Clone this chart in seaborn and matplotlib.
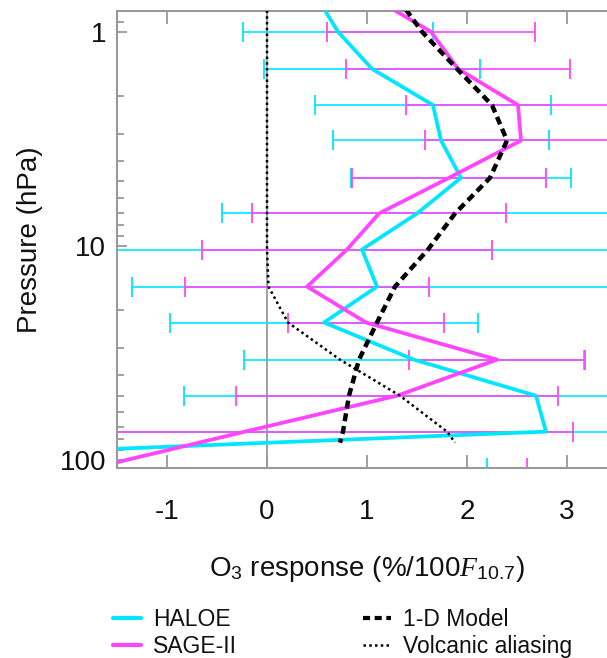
import matplotlib
matplotlib.use('Agg')
import matplotlib.pyplot as plt
from matplotlib.ticker import LogLocator, NullFormatter
from matplotlib.lines import Line2D
import seaborn as sns

# pressure levels (hPa) of the satellite profiles
pressure = [0.68, 1.0, 1.49, 2.2, 3.22, 4.81, 7.06, 10.4, 15.5, 22.8, 34.0, 50.1, 73.7, 109.0]

# solar O3 response (%/100 F10.7) and 2-sigma half widths
haloe = [0.49, 0.71, 1.05, 1.66, 1.74, 1.94, 1.50, 0.95, 1.10, 0.57, 1.47, 2.69, 2.79, -6.3]
haloe_err = [0.95, 0.95, 1.08, 1.18, 1.08, 1.10, 1.95, 2.6, 2.45, 1.54, 1.70, 3.52, 4.5, 8.5]
sage = [1.03, 1.64, 1.91, 2.51, 2.54, 1.82, 1.12, 0.80, 0.40, 0.99, 2.30, 1.30, -0.22, -1.74]
sage_err = [1.04, 1.04, 1.12, 1.12, 0.96, 0.97, 1.27, 1.45, 1.22, 0.78, 0.88, 1.61, 3.28, 4.34]

# model and volcanic aliasing profiles
model_p = [0.68, 1.0, 1.49, 2.2, 3.22, 4.81, 7.06, 10.4, 15.5, 22.8, 34.0, 50.1, 73.7, 83.0]
model = [1.29, 1.55, 1.90, 2.25, 2.40, 2.23, 1.88, 1.61, 1.28, 1.10, 0.92, 0.82, 0.76, 0.73]
volcanic = [0.0, 0.0, 0.0, 0.0, 0.0, 0.0, 0.0, 0.0, 0.015, 0.21, 0.73, 1.33, 1.80, 1.88]

x_ticks = [-1, 0, 1, 2, 3]
y_ticks = [1, 10, 100]

CYAN = '#00E6FF'
MAGENTA = '#FF45FF'
GREY = '#999999'
INK = '#111111'

sns.set_style('ticks')
plt.rcParams['font.family'] = ['Liberation Sans', 'DejaVu Sans']
plt.rcParams['mathtext.fontset'] = 'custom'
plt.rcParams['mathtext.rm'] = 'Liberation Sans'
plt.rcParams['mathtext.it'] = 'Liberation Serif:italic'
plt.rcParams['axes.unicode_minus'] = False
plt.rcParams['text.color'] = INK
plt.rcParams['axes.labelcolor'] = INK
plt.rcParams['xtick.labelcolor'] = INK
plt.rcParams['ytick.labelcolor'] = INK

fig = plt.figure(figsize=(6.07, 6.58), dpi=100)
ax = fig.add_axes([117 / 607, 1 - 468 / 658, 500 / 607, 457 / 658])

ax.axvline(0, color=GREY, lw=1.3, zorder=1)

# error bars first, lines on top
ax.errorbar(haloe, pressure, xerr=haloe_err, fmt='none', ecolor=CYAN,
            elinewidth=1.2, capsize=7.5, capthick=1.3, zorder=2)
ax.errorbar(sage, pressure, xerr=sage_err, fmt='none', ecolor=MAGENTA,
            elinewidth=1.2, capsize=7.5, capthick=1.3, zorder=2)

sns.lineplot(x=haloe, y=pressure, sort=False, estimator=None, color=CYAN,
             lw=2.7, ax=ax, zorder=3)
sns.lineplot(x=sage, y=pressure, sort=False, estimator=None, color=MAGENTA,
             lw=2.7, ax=ax, zorder=4)
sns.lineplot(x=model, y=model_p, sort=False, estimator=None, color='black',
             lw=3.2, linestyle=(0, (1.8, 1.1)), ax=ax, zorder=5)
sns.lineplot(x=volcanic, y=model_p, sort=False, estimator=None, color='black',
             lw=1.8, linestyle=(0, (1.0, 1.3)), ax=ax, zorder=5)

ax.set_yscale('log')
ax.set_xlim(-1.5, 3.5)
ax.set_ylim(109, 0.8)
ax.set_xticks(x_ticks, labels=[str(v) for v in x_ticks])
ax.set_yticks(y_ticks, labels=[str(v) for v in y_ticks])
ax.yaxis.set_minor_locator(LogLocator(base=10, subs=range(2, 10)))
ax.yaxis.set_minor_formatter(NullFormatter())

for s in ax.spines.values():
    s.set_color(GREY)
    s.set_linewidth(1.5)

ax.tick_params(axis='x', which='major', direction='in', top=True, bottom=True,
               length=9.5, width=1.3, color=GREY, labelsize=20, pad=22)
ax.tick_params(axis='y', which='major', direction='in', left=True, right=True,
               length=7.2, width=1.3, color=GREY, labelsize=20, pad=8)
ax.tick_params(axis='y', which='minor', direction='in', left=True, right=True,
               length=5, width=1.3, color=GREY)

ax.set_ylabel('Pressure (hPa)', fontsize=20, labelpad=12)
ax.set_xlabel(r'O$_3$ response (%/100$F_{10.7}$)', fontsize=20, labelpad=21)

h1 = [Line2D([], [], color=CYAN, lw=3),
      Line2D([], [], color=MAGENTA, lw=3)]
h2 = [Line2D([], [], color='black', lw=3, linestyle=(0, (1.7, 1.1))),
      Line2D([], [], color='black', lw=1.8, linestyle=(0, (1.0, 1.3)))]
leg_kw = dict(loc='upper left', frameon=False, fontsize=16.5, borderpad=0,
              handlelength=1.2, handletextpad=0.52, labelspacing=0.15)
fig.legend(h1, ['HALOE', 'SAGE-II'],
           bbox_to_anchor=(102 / 607, 1 - 597 / 658), **leg_kw)
fig.legend(h2, ['1-D Model', 'Volcanic aliasing'],
           bbox_to_anchor=(352 / 607, 1 - 597 / 658), **leg_kw)

fig.savefig('out.png', dpi=100)
